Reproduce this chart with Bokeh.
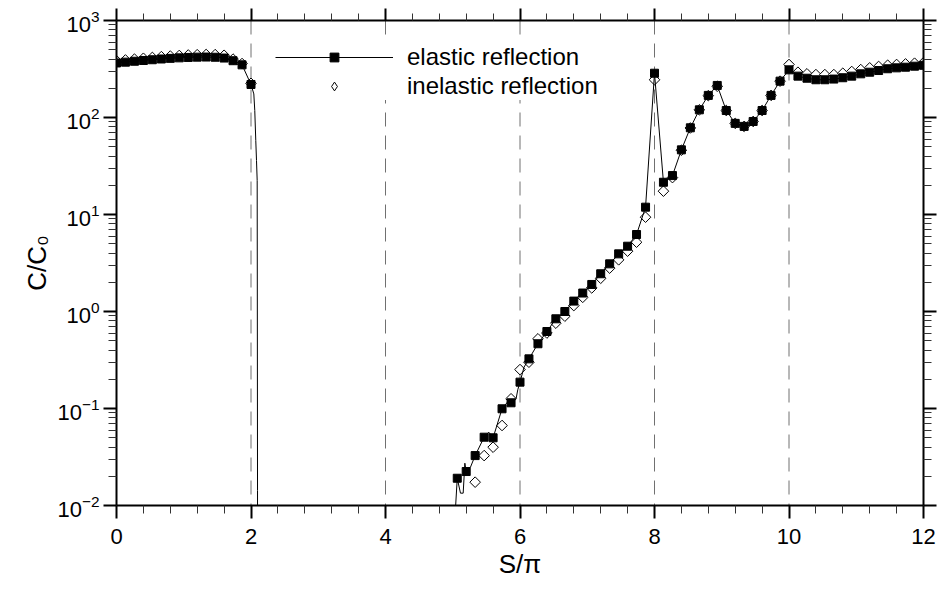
import numpy as np
from bokeh.plotting import figure
from bokeh.models import (Range1d, FixedTicker, LinearAxis, LogAxis, Span,
                          Legend, LegendItem)
from bokeh.embed import file_html
from bokeh.resources import INLINE

# ---- data ----
elastic_s = [0.000, 0.133, 0.267, 0.400, 0.533, 0.667, 0.800, 0.933, 1.067, 1.200,
             1.333, 1.467, 1.600, 1.733, 1.867, 2.000,
             5.067, 5.200, 5.333, 5.467, 5.600, 5.733, 5.867, 6.000, 6.133, 6.267,
             6.400, 6.533, 6.667, 6.800, 6.933, 7.067, 7.200, 7.333, 7.467, 7.600,
             7.733, 7.867, 8.000, 8.133, 8.267, 8.400, 8.533, 8.667, 8.800, 8.933,
             9.067, 9.200, 9.333, 9.467, 9.600, 9.733, 9.867, 10.000, 10.133, 10.267,
             10.400, 10.533, 10.667, 10.800, 10.933, 11.067, 11.200, 11.333, 11.467,
             11.600, 11.733, 11.867, 12.000]
elastic_c = [365, 372, 380, 387, 394, 401, 407, 412, 416, 419,
             420, 418, 410, 385, 349, 219,
             0.0191, 0.0224, 0.0327, 0.0506, 0.0499, 0.0993, 0.1145, 0.187, 0.325, 0.465,
             0.622, 0.841, 1.00, 1.28, 1.55, 1.90, 2.45, 3.10, 3.93, 4.71,
             6.22, 11.9, 286, 21.5, 25.2, 46.4, 78.3, 120, 169, 214,
             118, 87, 81, 91, 118, 169, 237, 310, 267, 254,
             245, 245, 249, 257, 267, 282, 293, 305, 318,
             325, 330, 338, 345]

inelastic_s = [0.000, 0.133, 0.267, 0.400, 0.533, 0.667, 0.800, 0.933, 1.067, 1.200,
               1.333, 1.467, 1.600, 1.733, 1.867, 2.000,
               5.333, 5.467, 5.600, 5.733, 5.867, 6.000, 6.133, 6.267,
               6.400, 6.533, 6.667, 6.800, 6.933, 7.067, 7.200, 7.333, 7.467, 7.600,
               7.733, 7.867, 8.000, 8.133, 8.267, 8.400, 8.533, 8.667, 8.800, 8.933,
               9.067, 9.200, 9.333, 9.467, 9.600, 9.733, 9.867, 10.000, 10.133, 10.267,
               10.400, 10.533, 10.667, 10.800, 10.933, 11.067, 11.200, 11.333, 11.467,
               11.600, 11.733, 11.867, 12.000]
inelastic_c = [385, 392, 400, 408, 416, 424, 430, 436, 441, 444,
               446, 445, 438, 400, 360, 225,
               0.0174, 0.0327, 0.0399, 0.0668, 0.126, 0.252, 0.30, 0.523,
               0.60, 0.758, 0.895, 1.15, 1.40, 1.75, 2.20, 2.80, 3.41, 4.19,
               5.18, 9.38, 245, 17.4, 24.0, 46.0, 78.0, 120, 168, 210,
               118, 87, 81, 91, 118, 169, 237, 352, 293, 282,
               277, 277, 277, 286, 298, 312, 325, 336, 346,
               352, 357, 363, 368]

# continuous elastic curve (markers plus extra points read between them)
curve_s = (elastic_s[:16] + [2.042, 2.056, 2.071, 2.082, 2.092, 2.097, 2.099, np.nan,
           5.035, 5.067, 5.115, 5.155, 5.180, 5.200, 5.264, 5.333, 5.467, 5.536,
           5.600, 5.733, 5.834, 5.867, 5.943, 5.967, 6.000, 6.060]
           + elastic_s[24:])
curve_c = (elastic_c[:16] + [175, 118, 58, 36, 22.4, 0.0143, 0.001, np.nan,
           0.008, 0.0191, 0.0134, 0.0134, 0.0273, 0.0224, 0.0249, 0.0327, 0.0506, 0.057,
           0.0499, 0.0993, 0.121, 0.1145, 0.1275, 0.156, 0.187, 0.267]
           + elastic_c[24:])

x_major = [0, 2, 4, 6, 8, 10, 12]
x_minor = [round(0.4 * i, 1) for i in range(31) if i % 5 != 0]
y_major = [0.01, 0.1, 1, 10, 100, 1000]
y_minor = [m * 10.0 ** e for e in range(-2, 3) for m in range(2, 10)]
dash_positions = [2, 4, 6, 8, 10]

FONT = "Liberation Sans"

p = figure(frame_width=807, frame_height=485,
           x_range=Range1d(0, 12), y_range=Range1d(0.01, 1000),
           y_axis_type="log", output_backend="svg", toolbar_location=None,
           min_border_left=116, min_border_top=20, min_border_right=14,
           min_border_bottom=80, outline_line_color=None,
           background_fill_color="white", border_fill_color="white")
p.grid.visible = False


def style(ax, labels=True):
    ax.axis_line_width = 2
    ax.axis_line_color = "black"
    ax.major_tick_line_width = 2
    ax.major_tick_line_color = "black"
    ax.major_tick_out = 13
    ax.major_tick_in = 0
    ax.minor_tick_out = 8
    ax.minor_tick_in = 0
    ax.minor_tick_line_width = 1
    ax.minor_tick_line_color = "#333333"
    if labels:
        ax.major_label_text_font = FONT
        ax.major_label_text_font_size = "22px"
        ax.major_label_text_color = "black"
        ax.axis_label_text_font = FONT
        ax.axis_label_text_font_size = "26px"
        ax.axis_label_text_font_style = "normal"
        ax.axis_label_text_color = "black"


p.xaxis.ticker = FixedTicker(ticks=x_major, minor_ticks=x_minor)
p.yaxis.ticker = FixedTicker(ticks=y_major, minor_ticks=y_minor)
style(p.xaxis[0])
style(p.yaxis[0])
p.xaxis.axis_label = "S/π"
p.yaxis.axis_label = "C/C₀"
p.xaxis.major_label_standoff = 10
p.yaxis.major_label_standoff = 4
p.xaxis.axis_label_standoff = 2
p.yaxis.axis_label_standoff = 2

# mirrored axes on top and right: ticks only, no labels
top = LinearAxis(ticker=FixedTicker(ticks=x_major, minor_ticks=x_minor),
                 major_label_overrides={t: "" for t in x_major})
style(top, labels=False)
top.major_tick_out = 12
top.minor_tick_out = 7
top.major_label_standoff = 0
top.major_label_text_font_size = "1px"
p.add_layout(top, "above")

right = LogAxis(ticker=FixedTicker(ticks=y_major, minor_ticks=y_minor),
                major_label_overrides={t: "" for t in y_major})
style(right, labels=False)
right.major_label_standoff = 0
right.major_label_text_font_size = "1px"
p.add_layout(right, "right")

for v in dash_positions:
    p.add_layout(Span(location=v, dimension="height", line_color="#707070",
                      line_width=1, line_dash="14 9", level="underlay"))

r_in = p.scatter(inelastic_s, inelastic_c, marker="square", angle=np.pi / 4,
                 size=7.5, fill_color="white", line_color="black", line_width=1)
r_line = p.line(curve_s, curve_c, line_color="black", line_width=1)
r_el = p.scatter(elastic_s, elastic_c, marker="square", size=8,
                 fill_color="black", line_color="black")
# same inelastic data as an (unrotated) diamond, used only for the legend swatch
r_in_key = p.scatter(inelastic_s, inelastic_c, marker="diamond", size=10,
                     fill_color="white", line_color="black", line_width=1,
                     visible=False)

legend = Legend(items=[LegendItem(label="elastic reflection", renderers=[r_line, r_el]),
                       LegendItem(label="inelastic reflection", renderers=[r_in_key])],
                location=(159, 405), orientation="vertical",
                glyph_width=118, glyph_height=22, label_height=24,
                label_standoff=14, spacing=1, padding=10, margin=0,
                label_text_font=FONT, label_text_font_size="24px",
                label_text_color="black",
                background_fill_color="white", background_fill_alpha=1.0,
                border_line_color=None)
p.add_layout(legend, "center")

open("out.html", "w").write(file_html(p, INLINE))
